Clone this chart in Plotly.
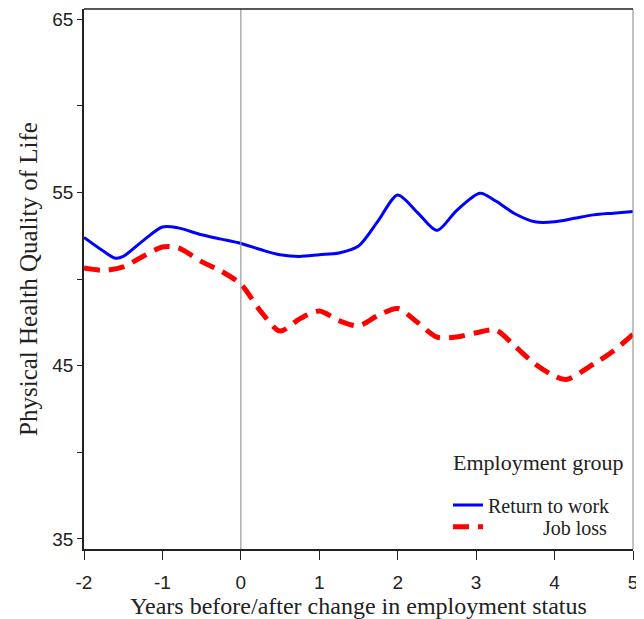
import plotly.graph_objects as go

years_rtw = [-2.0, -1.75, -1.6, -1.5, -1.25, -1.0, -0.8, -0.5, -0.25, 0.0, 0.25, 0.5, 0.75, 1.0, 1.25, 1.5,
             1.75, 2.0, 2.25, 2.5, 2.75, 3.05, 3.25, 3.5, 3.75, 4.0, 4.25, 4.5, 4.75, 5.0]
return_to_work = [52.4, 51.6, 51.2, 51.3, 52.2, 53.0, 52.95, 52.55, 52.3, 52.05, 51.7, 51.4, 51.3, 51.4, 51.5, 51.9,
                  53.35, 54.85, 53.85, 52.8, 53.95, 54.95, 54.5, 53.75, 53.3, 53.3, 53.5, 53.7, 53.8, 53.9]

years_jl = [-2.0, -1.75, -1.5, -1.25, -1.0, -0.8, -0.5, -0.25, 0.0, 0.25, 0.5, 0.75, 1.0, 1.25, 1.5,
            1.75, 2.0, 2.25, 2.5, 2.75, 3.0, 3.25, 3.5, 3.75, 4.0, 4.15, 4.5, 4.75, 5.0]
job_loss = [50.63, 50.5, 50.7, 51.3, 51.85, 51.8, 51.0, 50.45, 49.7, 48.15, 47.0, 47.7, 48.15, 47.6, 47.3,
            47.9, 48.3, 47.5, 46.65, 46.65, 46.9, 47.05, 46.1, 45.1, 44.4, 44.2, 45.1, 45.85, 46.8]

x_ticks = [-2, -1, 0, 1, 2, 3, 4, 5]
x_tick_labels = ["-2", "-1", "0", "1", "2", "3", "4", "5"]
y_ticks = [35, 40, 45, 50, 55, 60, 65]
y_tick_labels = ["35", "", "45", "", "55", "", "65"]

NB = "\u00a0"

fig = go.Figure()
fig.add_trace(go.Scatter(x=years_rtw, y=return_to_work, mode="lines", name="Return to work",
                         legend="legend",
                         line=dict(color="#0000ff", width=3, shape="spline", smoothing=0.8)))
fig.add_trace(go.Scatter(x=years_jl, y=job_loss, mode="lines",
                         name=NB * 11 + "Job loss", legend="legend2",
                         line=dict(color="#ff0000", width=5, shape="spline", smoothing=0.8, dash="16px,9px")))

fig.add_vline(x=0, line=dict(color="#999999", width=1.2))
fig.add_shape(type="line", xref="paper", yref="paper", x0=1, x1=1, y0=0, y1=1,
              line=dict(color="#999999", width=1.2))
fig.add_shape(type="line", xref="paper", yref="paper", x0=0, x1=1, y0=1, y1=1,
              line=dict(color="#222222", width=1.5))

fig.add_annotation(text="Employment group", xref="paper", yref="paper", x=0.985, y=0.161,
                   xanchor="right", yanchor="middle", showarrow=False,
                   font=dict(family="Liberation Serif", size=22, color="#222222"))

legend_common = dict(xanchor="left", yanchor="middle", bgcolor="rgba(0,0,0,0)",
                     font=dict(family="Liberation Serif", size=20, color="#222222"),
                     tracegroupgap=0, itemwidth=30)

fig.update_layout(
    width=636, height=611,
    margin=dict(l=76, r=11, t=1, b=70),
    plot_bgcolor="white", paper_bgcolor="white",
    font=dict(family="Liberation Serif", color="#222222"),
    showlegend=True,
    legend=dict(x=0.663, y=0.0815, **legend_common),
    legend2=dict(x=0.663, y=0.041, **legend_common),
    xaxis=dict(
        range=[-2, 5], tickvals=x_ticks, ticktext=x_tick_labels, ticks="outside", ticklen=9, tickcolor="#222222",
        ticklabelstandoff=6,
        showline=True, linecolor="#222222", linewidth=1.5, showgrid=False, zeroline=False, automargin=False,
        tickfont=dict(family="Liberation Sans", size=19, color="#222222"),
        title=dict(text="Years before/after change in employment status",
                   font=dict(family="Liberation Serif", size=24), standoff=4),
    ),
    yaxis=dict(
        range=[34.42, 65.58], tickvals=y_ticks, ticktext=y_tick_labels, ticks="outside", ticklen=5,
        tickcolor="#222222", showline=True, linecolor="#222222", linewidth=1.5, showgrid=False, zeroline=False,
        automargin=False,
        tickfont=dict(family="Liberation Sans", size=19, color="#222222"),
        title=dict(text="Physical Health Quality of Life",
                   font=dict(family="Liberation Serif", size=25), standoff=8),
    ),
)

fig.write_html("out.html")
